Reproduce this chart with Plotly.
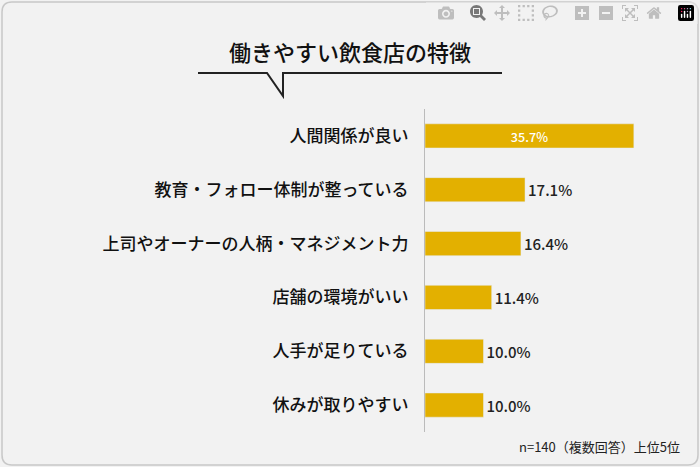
import plotly.graph_objects as go

categories = ["人間関係が良い", "教育・フォロー体制が整っている", "上司やオーナーの人柄・マネジメント力",
              "店舗の環境がいい", "人手が足りている", "休みが取りやすい"]
values = [35.7, 17.1, 16.4, 11.4, 10.0, 10.0]
title = "働きやすい飲食店の特徴"
note = "n=140（複数回答）上位5位"

W, H = 700, 467
font = "Noto Sans CJK JP"
texts = [f"{v:.1f}%" for v in values]
tpos = ["inside"] + ["outside"] * (len(values) - 1)
tcol = ["white"] + ["#222222"] * (len(values) - 1)
tsize = [18] + [15] * (len(values) - 1)

fig = go.Figure(go.Bar(
    x=values, y=categories, orientation="h",
    marker_color="#E3B000", width=0.45,
    text=texts, textposition=tpos, insidetextanchor="middle",
    textfont=dict(color=tcol, size=tsize, family=font, weight=500),
    cliponaxis=False,
))

def px(x): return x / W
def py(y): return 1 - y / H

fig.update_layout(
    width=W, height=H, margin=dict(l=0, r=0, t=0, b=0),
    paper_bgcolor="#F2F2F2", plot_bgcolor="rgba(0,0,0,0)",
    showlegend=False, font=dict(family=font, color="#222222"),
    xaxis=dict(domain=[px(425), px(665)], range=[0, 240 / 5.85], visible=False),
    yaxis=dict(domain=[py(432), py(109)], autorange="reversed",
               showline=True, linecolor="#BBBBBB", linewidth=1,
               ticks="", ticklabelstandoff=12,
               tickfont=dict(size=17, color="#111111", weight=500),
               showgrid=False),
)
r = 10
x0, y0, x1, y1 = 2, 2, 698, 465
fig.add_shape(type="path", xref="paper", yref="paper",
    path=(f"M {px(x0+r)} {py(y0)} L {px(x1-r)} {py(y0)} Q {px(x1)} {py(y0)} {px(x1)} {py(y0+r)} "
          f"L {px(x1)} {py(y1-r)} Q {px(x1)} {py(y1)} {px(x1-r)} {py(y1)} L {px(x0+r)} {py(y1)} "
          f"Q {px(x0)} {py(y1)} {px(x0)} {py(y1-r)} L {px(x0)} {py(y0+r)} Q {px(x0)} {py(y0)} {px(x0+r)} {py(y0)} Z"),
    line=dict(color="#C8C8C8", width=1.5), layer="below")
fig.add_shape(type="path", xref="paper", yref="paper",
    path=f"M {px(198)} {py(73)} L {px(267)} {py(73)} L {px(283)} {py(96)} L {px(283)} {py(73)} L {px(502)} {py(73)}",
    line=dict(color="#222222", width=2))
fig.add_annotation(text=title, x=px(350), y=py(51), xref="paper", yref="paper",
    xanchor="center", yanchor="middle",
    showarrow=False, font=dict(size=22, color="#111111", family=font, weight=500))
fig.add_annotation(text=note, x=px(682), y=py(446), xref="paper", yref="paper",
    xanchor="right", yanchor="middle", showarrow=False,
    font=dict(size=13, color="#222222", family=font))
fig.write_html("out.html",
    post_script="document.body.style.margin='0';document.body.style.overflow='hidden';")
